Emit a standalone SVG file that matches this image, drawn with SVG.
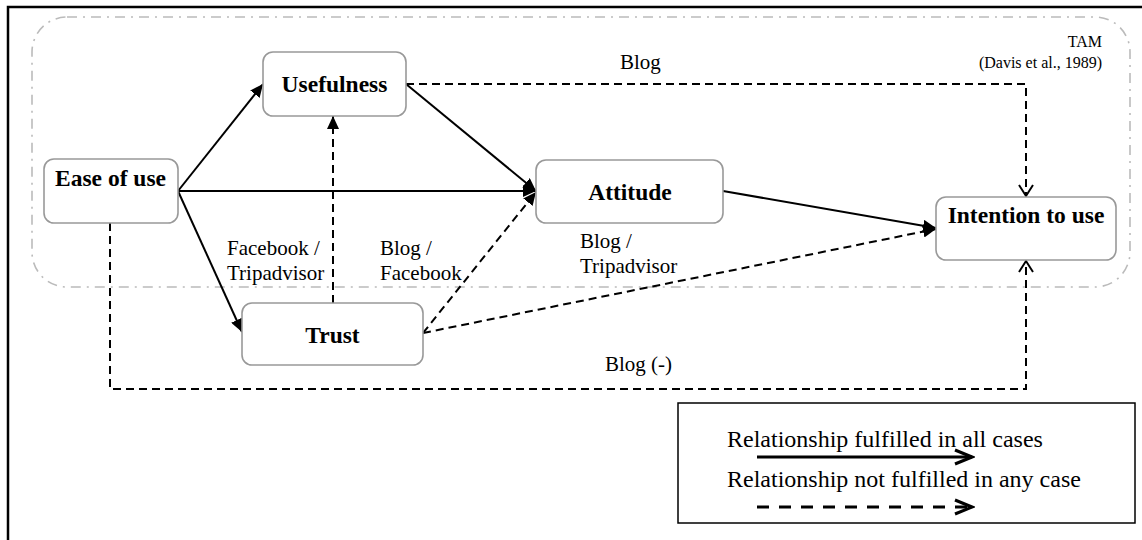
<svg xmlns="http://www.w3.org/2000/svg" width="1142" height="540" viewBox="0 0 1142 540">
<style>
.node{fill:#fff;stroke:#999;stroke-width:1.6}
.solid{fill:none;stroke:#000;stroke-width:2}
.dash{fill:none;stroke:#000;stroke-width:2;stroke-dasharray:8 5}
</style>
<defs>
<marker id="fa" markerUnits="userSpaceOnUse" markerWidth="14" markerHeight="12" refX="13" refY="6" orient="auto"><path d="M0,0 L13,6 L0,12 z" fill="#000"/></marker>
<marker id="oa" markerUnits="userSpaceOnUse" markerWidth="14" markerHeight="16" refX="12" refY="8" orient="auto"><path d="M1,1 L12,8 L1,15" fill="none" stroke="#000" stroke-width="2"/></marker>
<marker id="la" markerUnits="userSpaceOnUse" markerWidth="22" markerHeight="18" refX="19" refY="9" orient="auto"><path d="M2,2 L19,9 L2,16" fill="none" stroke="#000" stroke-width="3"/></marker>
</defs>
<rect width="1142" height="540" fill="#fff"/>
<path d="M8,540 V7 H1142" fill="none" stroke="#000" stroke-width="2.5"/>
<rect x="32" y="17" width="1098" height="270" rx="35" fill="none" stroke="#bbb" stroke-width="1.6" stroke-dasharray="10 6 2 6"/>

<g font-family="'Liberation Serif', 'Times New Roman', Tinos, 'DejaVu Serif', serif" fill="#000">
<text x="1102" y="47" text-anchor="end" font-size="16">TAM</text>
<text x="1102" y="68" text-anchor="end" font-size="16">(Davis et al., 1989)</text>
</g>

<g id="connectors">
<line class="solid" x1="178" y1="191" x2="263" y2="84" marker-end="url(#fa)"/>
<line class="solid" x1="178" y1="191" x2="536" y2="191" marker-end="url(#fa)"/>
<line class="solid" x1="178" y1="191" x2="242" y2="332" marker-end="url(#fa)"/>
<line class="solid" x1="406" y1="84" x2="536" y2="191" marker-end="url(#fa)"/>
<line class="dash" x1="333" y1="303" x2="333" y2="116" marker-end="url(#fa)"/>
<line class="dash" x1="423" y1="333" x2="536" y2="192" marker-end="url(#fa)"/>
<line class="dash" x1="423" y1="333" x2="936" y2="229" marker-end="url(#fa)"/>
<line class="solid" x1="723" y1="191" x2="936" y2="228" marker-end="url(#fa)"/>
<path class="dash" d="M406,84 H1026 V196" marker-end="url(#oa)"/>
<path class="dash" d="M110,223 V389 H1026 V261" marker-end="url(#oa)"/>
</g>

<g id="labels" font-family="'Liberation Serif', 'Times New Roman', Tinos, 'DejaVu Serif', serif" font-size="21" fill="#000">
<text x="620" y="69">Blog</text>
<text x="227" y="255">Facebook /</text>
<text x="227" y="280">Tripadvisor</text>
<text x="380" y="255">Blog /</text>
<text x="380" y="280">Facebook</text>
<text x="580" y="248">Blog /</text>
<text x="580" y="273">Tripadvisor</text>
<text x="605" y="371">Blog (-)</text>
</g>

<g font-family="'Liberation Serif', 'Times New Roman', Tinos, 'DejaVu Serif', serif" font-size="23.5" font-weight="bold" text-anchor="middle" fill="#000">
<g id="ease"><rect class="node" x="44" y="159" width="134" height="64" rx="10"/><text x="110.5" y="186">Ease of use</text></g>
<g id="usefulness"><rect class="node" x="263" y="52" width="143" height="64" rx="10"/><text x="334.5" y="92">Usefulness</text></g>
<g id="attitude"><rect class="node" x="536" y="160" width="187" height="63" rx="10"/><text x="630" y="200">Attitude</text></g>
<g id="intention"><rect class="node" x="936" y="197" width="180" height="63" rx="10"/><text x="1026" y="223">Intention to use</text></g>
<g id="trust"><rect class="node" x="242" y="303" width="181" height="62" rx="10"/><text x="332.5" y="343">Trust</text></g>
</g>

<g id="legend">
<rect x="678" y="403" width="457" height="120" fill="#fff" stroke="#000" stroke-width="1.5"/>
<text x="727" y="447" font-family="'Liberation Serif', 'Times New Roman', Tinos, 'DejaVu Serif', serif" font-size="24" fill="#000">Relationship fulfilled in all cases</text>
<text x="727" y="487" font-family="'Liberation Serif', 'Times New Roman', Tinos, 'DejaVu Serif', serif" font-size="24" fill="#000">Relationship not fulfilled in any case</text>
<line x1="757" y1="457" x2="972" y2="457" stroke="#000" stroke-width="3" marker-end="url(#la)"/>
<line x1="757" y1="507" x2="972" y2="507" stroke="#000" stroke-width="3" stroke-dasharray="12 10" marker-end="url(#la)"/>
</g>
</svg>
